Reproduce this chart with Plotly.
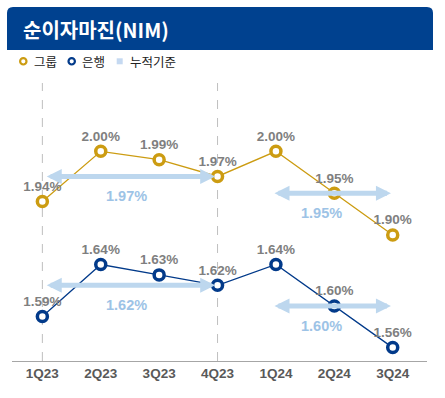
import plotly.graph_objects as go

# ---- data ----
quarters = ["1Q23", "2Q23", "3Q23", "4Q23", "1Q24", "2Q24", "3Q24"]
group_nim = [1.94, 2.00, 1.99, 1.97, 2.00, 1.95, 1.90]
bank_nim = [1.59, 1.64, 1.63, 1.62, 1.64, 1.60, 1.56]
cum_periods = [("1Q23", "4Q23"), ("1Q24", "3Q24")]
cum_group = [1.97, 1.95]
cum_bank = [1.62, 1.60]
title_text = "순이자마진(NIM)"
legend_labels = ["그룹", "은행", "누적기준"]

# ---- style ----
W, H = 445, 398
GOLD = "#CC9C12"
NAVY = "#023A8A"
ARROW = "#BDD7EE"
CUMTXT = "#9DC3E6"
LABEL = "#7F7F7F"
HEADER = "#00418F"
NUMFONT = "Liberation Sans, Arial, sans-serif"
KRFONT = "Noto Sans CJK KR, sans-serif"


def px(x):
    return x / W


def py(y):
    return 1 - y / H


fig = go.Figure()

fig.add_trace(go.Scatter(
    x=quarters, y=group_nim, mode="lines+markers+text",
    text=[f"{v:.2f}%" for v in group_nim], textposition="top center",
    textfont=dict(family=NUMFONT, size=13.5, color=LABEL, weight="bold"),
    line=dict(color=GOLD, width=1.3),
    marker=dict(size=10, color="white", line=dict(color=GOLD, width=3.5)),
    cliponaxis=False, showlegend=False, yaxis="y", hoverinfo="skip"))

fig.add_trace(go.Scatter(
    x=quarters, y=bank_nim, mode="lines+markers+text",
    text=[f"{v:.2f}%" for v in bank_nim], textposition="top center",
    textfont=dict(family=NUMFONT, size=13.5, color=LABEL, weight="bold"),
    line=dict(color=NAVY, width=1.3),
    marker=dict(size=10, color="white", line=dict(color=NAVY, width=3.5)),
    cliponaxis=False, showlegend=False, yaxis="y2", hoverinfo="skip"))

annotations = []
shapes = []

# cumulative arrows + labels
insets = [(0.05, -0.04), (-0.05, -0.03)]
xshifts = [-3, -13]
for yref, cums in (("y", cum_group), ("y2", cum_bank)):
    for (p0, p1), val, (i0, i1), xs in zip(cum_periods, cums, insets, xshifts):
        a = quarters.index(p0) + i0
        b = quarters.index(p1) + i1
        annotations.append(dict(
            x=b, y=val, ax=a, ay=val, xref="x", yref=yref, axref="x", ayref=yref,
            text="", showarrow=True, arrowside="end+start", arrowhead=2,
            arrowsize=0.6, arrowwidth=5, arrowcolor=ARROW))
        annotations.append(dict(
            x=(quarters.index(p0) + quarters.index(p1)) / 2, y=val,
            xref="x", yref=yref, text=f"{val:.2f}%", showarrow=False,
            xshift=xs, yshift=-20,
            font=dict(family=NUMFONT, size=14.5, color=CUMTXT, weight="bold")))

# dashed vertical separators
for q in ("1Q23", "4Q23"):
    shapes.append(dict(type="line", xref="x", yref="paper", x0=q, x1=q,
                       y0=py(361), y1=py(83),
                       line=dict(color="#BFBFBF", width=1, dash="dash"), layer="below"))

# header box with rounded top corners
x0, x1, yt, yb = px(7), px(433), py(7), py(50)
rx, ry = px(6), 6 / H
shapes.append(dict(
    type="path", xref="paper", yref="paper",
    path=(f"M {x0},{yb} L {x0},{yt - ry} Q {x0},{yt} {x0 + rx},{yt} "
          f"L {x1 - rx},{yt} Q {x1},{yt} {x1},{yt - ry} L {x1},{yb} Z"),
    fillcolor=HEADER, line=dict(width=0)))
annotations.append(dict(
    x=px(21), y=py(29), xref="paper", yref="paper", xanchor="left", yanchor="middle",
    text=title_text, showarrow=False,
    font=dict(family=KRFONT, size=20, color="white", weight="bold")))

# legend
leg_y = 61.3
for cx, col in ((23.3, GOLD), (71.7, NAVY)):
    r = 3.2
    shapes.append(dict(type="circle", xref="paper", yref="paper",
                       x0=px(cx - r), x1=px(cx + r), y0=py(leg_y + r), y1=py(leg_y - r),
                       fillcolor="white", line=dict(color=col, width=2.2)))
shapes.append(dict(type="rect", xref="paper", yref="paper",
                   x0=px(116.7), x1=px(122.7), y0=py(leg_y + 3), y1=py(leg_y - 3),
                   fillcolor="#C5D9F1", line=dict(width=0)))
for tx, lab in zip((32, 80, 128), legend_labels):
    annotations.append(dict(
        x=px(tx), y=py(leg_y), xref="paper", yref="paper", xanchor="left",
        yanchor="middle", text=lab, showarrow=False,
        font=dict(family=KRFONT, size=12.5, color="#222222")))

fig.update_layout(
    width=W, height=H, autosize=False,
    margin=dict(l=0, r=0, t=0, b=0),
    paper_bgcolor="white", plot_bgcolor="white",
    xaxis=dict(type="category", categoryarray=quarters, range=[-0.525, 6.582],
               domain=[px(11.7), px(426.7)], showgrid=False, zeroline=False,
               showline=True, linecolor="#A6A6A6", linewidth=1.3, ticks="",
               tickfont=dict(family=NUMFONT, size=13.5, color="#595959", weight="bold"),
               fixedrange=True),
    yaxis=dict(range=[1.7496, 2.0816], domain=[py(361), py(83)], visible=False,
               fixedrange=True),
    yaxis2=dict(range=[1.5471, 1.8147], domain=[py(361), py(83)], overlaying="y",
                visible=False, fixedrange=True),
    shapes=shapes, annotations=annotations, showlegend=False,
)

fig.write_html(
    "out.html",
    config={"displayModeBar": False},
    post_script="document.body.style.margin='0';document.body.style.overflow='hidden';",
)
